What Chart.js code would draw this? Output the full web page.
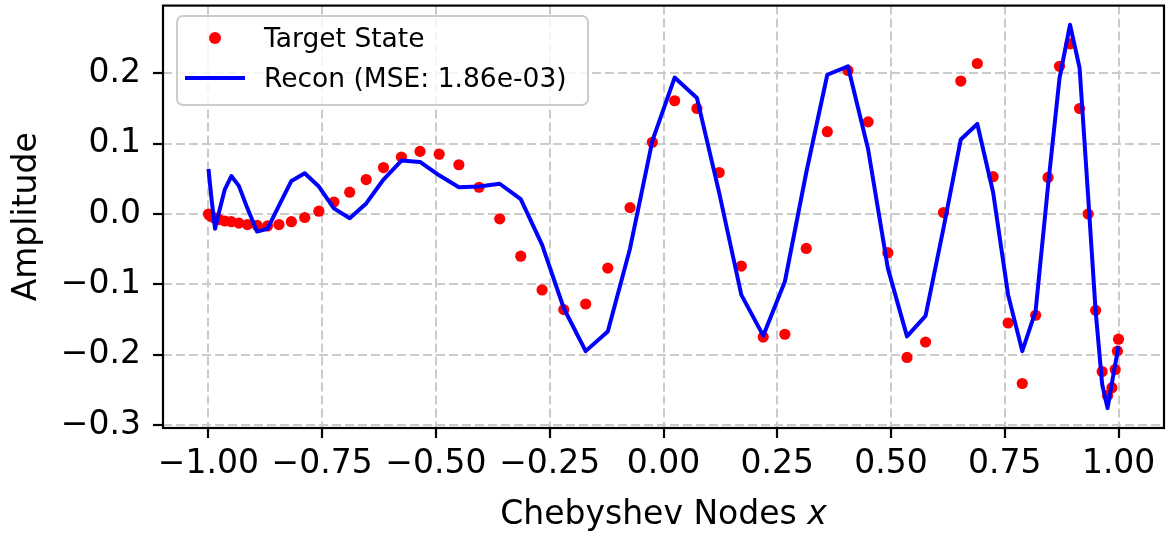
<!DOCTYPE html>
<html>
<head>
<meta charset="utf-8">
<script src="https://cdn.jsdelivr.net/npm/chart.js@4/dist/chart.umd.min.js"></script>
<style>
  body { margin: 0; background: #ffffff; }
  #wrap { width: 1173px; height: 536px; }
</style>
</head>
<body>
<div id="wrap"><canvas id="nodesGraph" width="1173" height="536"></canvas></div>
<script>
// Chebyshev nodes (64 of them, ascending)
let nodesX = [
  -0.9997, -0.9973, -0.9925, -0.9853, -0.9757, -0.9638, -0.9495, -0.9330,
  -0.9142, -0.8932, -0.8701, -0.8449, -0.8176, -0.7883, -0.7572, -0.7242,
  -0.6895, -0.6532, -0.6152, -0.5758, -0.5350, -0.4929, -0.4496, -0.4052,
  -0.3599, -0.3137, -0.2667, -0.2191, -0.1710, -0.1224, -0.0735, -0.0245,
   0.0245,  0.0735,  0.1224,  0.1710,  0.2191,  0.2667,  0.3137,  0.3599,
   0.4052,  0.4496,  0.4929,  0.5350,  0.5758,  0.6152,  0.6532,  0.6895,
   0.7242,  0.7572,  0.7883,  0.8176,  0.8449,  0.8701,  0.8932,  0.9142,
   0.9330,  0.9495,  0.9638,  0.9757,  0.9853,  0.9925,  0.9973,  0.9997
];
let targetState = [
   0.000, -0.002, -0.004, -0.006, -0.008, -0.010, -0.011, -0.013,
  -0.015, -0.016, -0.017, -0.015, -0.011, -0.005,  0.004,  0.017,
   0.031,  0.049,  0.066,  0.081,  0.089,  0.085,  0.070,  0.038,
  -0.007, -0.060, -0.108, -0.136, -0.128, -0.077,  0.009,  0.102,
   0.161,  0.150,  0.059, -0.074, -0.175, -0.171, -0.049,  0.117,
   0.204,  0.131, -0.055, -0.204, -0.182,  0.002,  0.189,  0.214,
   0.053, -0.155, -0.241, -0.144,  0.052,  0.210,  0.242,  0.150,
   0.000, -0.137, -0.224, -0.258, -0.247, -0.221, -0.195, -0.178
];
let reconState = [
   0.064,  0.048,  0.018, -0.021,  0.005,  0.035,  0.054,  0.040,
   0.008, -0.025, -0.021,  0.012,  0.047,  0.058,  0.039,  0.008,
  -0.006,  0.015,  0.049,  0.076,  0.074,  0.055,  0.038,  0.039,
   0.043,  0.021, -0.044, -0.134, -0.195, -0.167, -0.049,  0.104,
   0.194,  0.165,  0.030, -0.115, -0.173, -0.096,  0.059,  0.198,
   0.210,  0.092, -0.077, -0.174, -0.145, -0.020,  0.106,  0.128,
   0.031, -0.115, -0.195, -0.138,  0.040,  0.193,  0.269,  0.208,
   0.025, -0.138, -0.242, -0.276, -0.240, -0.214, -0.197, -0.188
];
let xTicks = [-1.0, -0.75, -0.5, -0.25, 0.0, 0.25, 0.5, 0.75, 1.0];
let yTicks = [-0.3, -0.2, -0.1, 0.0, 0.1, 0.2];
let legendLabels = ['Target State', 'Recon (MSE: 1.86e-03)'];

let font = "'DejaVu Sans'";
let minus = (s) => s.replace('-', '\u2212');

let toPoints = (ys) => nodesX.map((x, i) => ({x: x, y: ys[i]}));

// frame, legend and the x label (with italic x) drawn by hand
let extras = {
  id: 'extras',
  afterDatasetsDraw(chart) {
    let ctx = chart.ctx, a = chart.chartArea;
    ctx.save();
    ctx.strokeStyle = '#000000';
    ctx.lineWidth = 2.2;
    ctx.strokeRect(a.left, a.top, a.right - a.left, a.bottom - a.top);
    ctx.restore();
  },
  afterDraw(chart) {
    let ctx = chart.ctx, a = chart.chartArea;
    ctx.save();

    // legend box
    let bx = 177, by = 16, bw = 411, bh = 89, r = 6;
    ctx.beginPath();
    ctx.moveTo(bx + r, by);
    ctx.arcTo(bx + bw, by, bx + bw, by + bh, r);
    ctx.arcTo(bx + bw, by + bh, bx, by + bh, r);
    ctx.arcTo(bx, by + bh, bx, by, r);
    ctx.arcTo(bx, by, bx + bw, by, r);
    ctx.closePath();
    ctx.fillStyle = 'rgba(255,255,255,0.8)';
    ctx.fill();
    ctx.strokeStyle = '#cccccc';
    ctx.lineWidth = 2;
    ctx.stroke();

    ctx.fillStyle = '#ff0000';
    ctx.beginPath();
    ctx.arc(215, 38, 6, 0, Math.PI * 2);
    ctx.fill();

    ctx.strokeStyle = '#0000ff';
    ctx.lineWidth = 4;
    ctx.beginPath();
    ctx.moveTo(185, 78);
    ctx.lineTo(245, 78);
    ctx.stroke();

    ctx.fillStyle = '#000000';
    ctx.font = '26.5px ' + font;
    ctx.textBaseline = 'alphabetic';
    ctx.textAlign = 'left';
    ctx.fillText(legendLabels[0], 264, 47);
    ctx.fillText(legendLabels[1], 264, 87);

    // x axis label
    let head = 'Chebyshev Nodes ';
    ctx.font = '33px ' + font;
    let w1 = ctx.measureText(head).width;
    ctx.font = 'italic 33px ' + font;
    let w2 = ctx.measureText('x').width;
    let sx = (a.left + a.right) / 2 - (w1 + w2) / 2;
    ctx.font = '33px ' + font;
    ctx.fillText(head, sx, 524);
    ctx.font = 'italic 33px ' + font;
    ctx.fillText('x', sx + w1, 524);

    ctx.restore();
  }
};

let myGraph = document.getElementById('nodesGraph').getContext('2d');

let graph = new Chart(myGraph, {
  type: 'scatter',
  data: {
    datasets: [
      {
        label: legendLabels[1],
        data: toPoints(reconState),
        showLine: true,
        borderColor: '#0000ff',
        borderWidth: 4,
        borderJoinStyle: 'round',
        pointRadius: 0,
        tension: 0,
        order: 0
      },
      {
        label: legendLabels[0],
        data: toPoints(targetState),
        pointRadius: 5.6,
        pointBackgroundColor: '#ff0000',
        pointBorderWidth: 0,
        order: 1
      }
    ]
  },
  options: {
    responsive: false,
    animation: false,
    layout: { padding: { top: 3, right: 9, left: 0, bottom: 0 } },
    plugins: {
      legend: { display: false },
      tooltip: { enabled: false }
    },
    scales: {
      x: {
        type: 'linear',
        min: -1.0997,
        max: 1.0997,
        afterFit: (s) => { s.height = 108; s.paddingLeft = 0; s.paddingRight = 0; },
        afterBuildTicks: (s) => { s.ticks = xTicks.map(v => ({value: v})); },
        ticks: {
          color: '#000000',
          font: { family: font, size: 33 },
          padding: 7,
          maxRotation: 0,
          callback: (v) => minus(v.toFixed(2))
        },
        grid: {
          color: '#cbcbcb',
          lineWidth: 2,
          tickColor: '#000000',
          tickLength: 10,
          tickWidth: 2.2,
          tickBorderDash: []
        },
        border: { display: false, dash: [9, 4] }
      },
      y: {
        type: 'linear',
        min: -0.3043,
        max: 0.2963,
        afterFit: (s) => { s.width = 163; s.paddingTop = 0; s.paddingBottom = 0; },
        afterBuildTicks: (s) => { s.ticks = yTicks.map(v => ({value: v})); },
        ticks: {
          color: '#000000',
          font: { family: font, size: 33 },
          padding: 12,
          callback: (v) => minus(v.toFixed(1))
        },
        grid: {
          color: '#cbcbcb',
          lineWidth: 2,
          tickColor: '#000000',
          tickLength: 10,
          tickWidth: 2.2,
          tickBorderDash: []
        },
        border: { display: false, dash: [9, 4] },
        title: {
          display: true,
          text: 'Amplitude',
          color: '#000000',
          font: { family: font, size: 33 },
          padding: { top: 8, bottom: 0 }
        }
      }
    }
  },
  plugins: [extras]
});
</script>
</body>
</html>
